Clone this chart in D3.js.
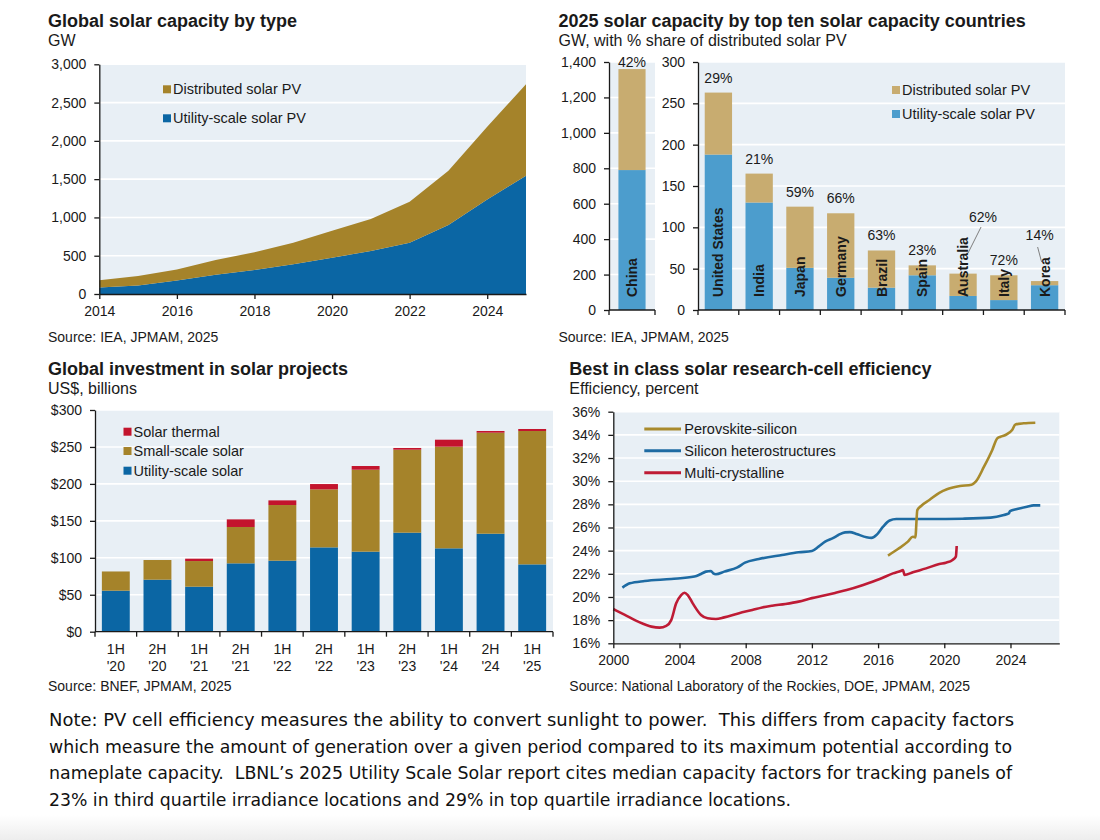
<!DOCTYPE html>
<html>
<head>
<meta charset="utf-8">
<script src="https://cdn.jsdelivr.net/npm/d3@7"></script>
<style>
  body { margin: 0; background: #fff; }
  svg { display: block; font-family: "Liberation Sans", Arial, sans-serif; }
  .note { white-space: pre; }
</style>
</head>
<body>
<div id="chart"></div>
<script>
// ---- data ----
var capYears = [2014, 2015, 2016, 2017, 2018, 2019, 2020, 2021, 2022, 2023, 2024, 2025];
var capUtility = [85, 110, 175, 250, 315, 390, 475, 560, 670, 900, 1235, 1545];
var capDistributed = [95, 125, 145, 195, 230, 280, 350, 420, 535, 710, 950, 1195];

var chinaName = ["China"];
var chinaUtility = [790];
var chinaDistributed = [570];
var chinaShare = ["42%"];

var countries = ["United States", "India", "Japan", "Germany", "Brazil", "Spain", "Australia", "Italy", "Korea"];
var countryUtility = [188, 130, 51, 39, 27, 42, 17, 12, 30];
var countryDistributed = [75, 35, 74, 78, 45, 12, 27, 30, 5];
var countryShare = ["29%", "21%", "59%", "66%", "63%", "23%", "62%", "72%", "14%"];

var periods = ["1H '20", "2H '20", "1H '21", "2H '21", "1H '22", "2H '22", "1H '23", "2H '23", "1H '24", "2H '24", "1H '25"];
var invUtility = [55.5, 70.4, 60.9, 92.5, 96.1, 114.1, 108.3, 134, 112.8, 132.6, 91.1];
var invSmall = [26, 26.6, 34.7, 49.2, 75.3, 78.5, 110.9, 112.3, 137.6, 136.7, 180.5];
var invThermal = [0, 0, 3.2, 10.3, 6.3, 7.2, 5, 2.3, 9.4, 2.3, 2.7];

// [year, efficiency %]
var perovskite = [[2016.6, 23.57], [2017.2, 24.14], [2017.8, 24.78], [2018.1, 25.2], [2018.25, 25.15],
  [2018.37, 27.5], [2018.6, 27.86], [2019.1, 28.37], [2019.7, 29.0], [2020.2, 29.32], [2020.95, 29.58],
  [2021.65, 29.7], [2021.9, 29.96], [2022.4, 31.25], [2022.9, 32.7], [2023.2, 33.7], [2023.4, 33.84],
  [2023.7, 33.99], [2024.1, 34.42], [2024.3, 34.9], [2024.8, 35.0], [2025.5, 35.05]];
var heterostructures = [[2000.55, 20.81], [2001.0, 21.18], [2001.9, 21.38], [2003.5, 21.55], [2004.9, 21.76],
  [2005.3, 21.99], [2005.6, 22.19], [2005.9, 22.24], [2006.04, 22.04], [2006.2, 21.96], [2006.7, 22.19],
  [2007.5, 22.56], [2007.96, 22.96], [2008.8, 23.28], [2010.2, 23.63], [2011.2, 23.86], [2012.0, 23.97],
  [2012.4, 24.35], [2012.8, 24.78], [2013.3, 25.1], [2013.6, 25.35], [2014.0, 25.58], [2014.3, 25.6],
  [2014.7, 25.44], [2015.3, 25.15], [2015.6, 25.1], [2015.9, 25.35], [2016.3, 26.07], [2016.7, 26.6],
  [2017.1, 26.73], [2019.1, 26.73], [2021.1, 26.76], [2022.8, 26.85], [2023.6, 27.08], [2023.9, 27.22],
  [2023.97, 27.42], [2024.4, 27.6], [2025.0, 27.8], [2025.4, 27.91], [2025.8, 27.91]];
var multiCrystalline = [[2000.0, 18.96], [2000.7, 18.45], [2001.5, 17.87], [2002.3, 17.44], [2002.8, 17.35],
  [2003.2, 17.5], [2003.5, 18.0], [2003.8, 19.45], [2004.1, 20.17], [2004.3, 20.37], [2004.5, 20.17],
  [2004.8, 19.45], [2005.3, 18.45], [2005.7, 18.16], [2006.2, 18.1], [2006.7, 18.24], [2007.6, 18.6],
  [2008.4, 18.88], [2009.0, 19.1], [2009.6, 19.25], [2010.4, 19.4], [2011.2, 19.6], [2012.0, 19.9],
  [2012.8, 20.15], [2013.4, 20.35], [2014.1, 20.6], [2015.1, 21.04], [2016.1, 21.55], [2016.9, 22.04],
  [2017.4, 22.27], [2017.5, 22.33], [2017.6, 21.9], [2018.1, 22.13], [2018.9, 22.47], [2019.7, 22.85],
  [2020.1, 22.96], [2020.5, 23.2], [2020.7, 23.48], [2020.75, 24.4]];

var noteLines = [
  "Note: PV cell efficiency measures the ability to convert sunlight to power.  This differs from capacity factors",
  "which measure the amount of generation over a given period compared to its maximum potential according to",
  "nameplate capacity.  LBNL\u2019s 2025 Utility Scale Solar report cites median capacity factors for tracking panels of",
  "23% in third quartile irradiance locations and 29% in top quartile irradiance locations."
];

// ---- colours ----
var bgColor = "#e8eff5";
var gold = "#a5832a";
var blue = "#0b66a4";
var tan = "#c8ac70";
var lightBlue = "#4c9dcd";
var red = "#c3142d";
var ink = "#1a1a1a";

var svg = d3.select("#chart").append("svg")
  .attr("width", 1100)
  .attr("height", 840);

function header(x, yTitle, title, sub) {
  svg.append("text").attr("x", x).attr("y", yTitle)
    .attr("font-size", 18).attr("font-weight", "bold").attr("fill", ink).text(title);
  svg.append("text").attr("x", x).attr("y", yTitle + 19)
    .attr("font-size", 16).attr("fill", ink).text(sub);
}

function source(x, y, txt) {
  svg.append("text").attr("x", x).attr("y", y)
    .attr("font-size", 14).attr("fill", ink).text(txt);
}

function styleAxis(g) {
  g.attr("font-family", null).attr("font-size", 14);
  g.selectAll("path, line").attr("stroke", ink).attr("stroke-width", 1.3);
  g.selectAll("text").attr("fill", ink);
}

function panel(x0, x1, y) {
  svg.append("rect")
    .attr("x", x0).attr("y", y.range()[1])
    .attr("width", x1 - x0).attr("height", y.range()[0] - y.range()[1])
    .attr("fill", bgColor);
}

function grid(x0, x1, y, ticks) {
  svg.append("g").selectAll("line")
    .data(ticks.filter(function(d) { return d !== y.domain()[0]; }))
    .join("line")
    .attr("x1", x0).attr("x2", x1)
    .attr("y1", function(d) { return y(d); })
    .attr("y2", function(d) { return y(d); })
    .attr("stroke", "#fff").attr("stroke-width", 1.6);
}

function leftAxis(xPos, y, ticks, fmt) {
  svg.append("g")
    .attr("transform", "translate(" + xPos + ",0)")
    .call(d3.axisLeft(y).tickValues(ticks).tickFormat(fmt).tickSizeInner(5).tickSizeOuter(0).tickPadding(8))
    .call(styleAxis);
}

function bandAxis(x, yPos) {
  var n = x.domain().length;
  var r = x.range();
  var g = svg.append("g");
  g.append("line").attr("x1", r[0]).attr("x2", r[1]).attr("y1", yPos).attr("y2", yPos)
    .attr("stroke", ink).attr("stroke-width", 1.3);
  g.selectAll(".tk").data(d3.range(n + 1)).join("line")
    .attr("x1", function(i) { return r[0] + i * x.step(); })
    .attr("x2", function(i) { return r[0] + i * x.step(); })
    .attr("y1", yPos).attr("y2", yPos + 5)
    .attr("stroke", ink).attr("stroke-width", 1.3);
}

function legendSquares(x, ys, items) {
  items.forEach(function(it, i) {
    svg.append("rect").attr("x", x).attr("y", ys[i] - 4).attr("width", 8).attr("height", 8).attr("fill", it.color);
    svg.append("text").attr("x", x + 10).attr("y", ys[i]).attr("dy", "0.35em")
      .attr("font-size", 14.5).attr("fill", ink).text(it.label);
  });
}

// ---- chart 1: global solar capacity by type ----
function drawCapacity() {
  header(48, 26.5, "Global solar capacity by type", "GW");
  var x = d3.scaleLinear().domain([2014, 2025]).range([99.3, 526]);
  var y = d3.scaleLinear().domain([0, 3000]).range([294, 64.3]);
  var yTicks = d3.range(0, 3001, 500);
  panel(x.range()[0], x.range()[1], y);
  grid(x.range()[0], x.range()[1], y, yTicks);

  var rows = capYears.map(function(yr, i) {
    return { year: yr, utility: capUtility[i], distributed: capDistributed[i] };
  });
  var series = d3.stack().keys(["utility", "distributed"])(rows);
  var area = d3.area()
    .x(function(d) { return x(d.data.year); })
    .y0(function(d) { return y(d[0]); })
    .y1(function(d) { return y(d[1]); });
  svg.append("g").selectAll("path").data(series).join("path")
    .attr("d", area)
    .attr("fill", function(s) { return s.key === "utility" ? blue : gold; });

  leftAxis(x.range()[0], y, yTicks, d3.format(","));
  svg.append("g")
    .attr("transform", "translate(0," + y.range()[0] + ")")
    .call(d3.axisBottom(x).tickValues(d3.range(2014, 2025, 2)).tickFormat(d3.format("d"))
      .tickSizeInner(5).tickSizeOuter(0).tickPadding(7))
    .call(styleAxis);

  legendSquares(163, [89.3, 118.3], [
    { label: "Distributed solar PV", color: gold },
    { label: "Utility-scale solar PV", color: blue }
  ]);
  source(48, 342, "Source: IEA, JPMAM, 2025");
}

// ---- chart 2: top ten countries ----
function countryBars(x, y, names, util, dist, shares, labelOffset) {
  var rows = names.map(function(n, i) { return { name: n, utility: util[i], distributed: dist[i], share: shares[i] }; });
  var series = d3.stack().keys(["utility", "distributed"])(rows);
  svg.append("g").selectAll("g").data(series).join("g")
    .attr("fill", function(s) { return s.key === "utility" ? lightBlue : tan; })
    .selectAll("rect").data(function(s) { return s; }).join("rect")
    .attr("x", function(d) { return x(d.data.name); })
    .attr("width", x.bandwidth())
    .attr("y", function(d) { return y(d[1]); })
    .attr("height", function(d) { return y(d[0]) - y(d[1]); });

  // country names, rotated inside the bars
  svg.append("g").selectAll("text").data(rows).join("text")
    .attr("transform", function(d) {
      return "translate(" + (x(d.name) + x.bandwidth() / 2) + "," + (y(0) - 13) + ") rotate(-90)";
    })
    .attr("dy", "0.36em")
    .attr("font-size", 14).attr("font-weight", "bold").attr("fill", ink)
    .text(function(d) { return d.name; });

  // share labels; two of them are lifted with a leader line
  var lifted = { "Australia": { v: 112, dx: 20, lineTop: 227, lineBot: 253, ldx: 5 },
                 "Korea": { v: 90.5, dx: -5, lineTop: 247, lineBot: 262, ldx: -3 } };
  rows.forEach(function(d) {
    var cx = x(d.name) + x.bandwidth() / 2;
    var lf = lifted[d.name];
    if (lf) {
      svg.append("text").attr("x", cx + lf.dx).attr("y", y(lf.v) + 5)
        .attr("text-anchor", "middle").attr("font-size", 14).attr("fill", ink).text(d.share);
      svg.append("line")
        .attr("x1", cx + lf.dx - 2).attr("y1", lf.lineTop)
        .attr("x2", cx + lf.ldx).attr("y2", lf.lineBot)
        .attr("stroke", "#7f7f7f").attr("stroke-width", 1);
    } else {
      svg.append("text").attr("x", cx).attr("y", y(d.utility + d.distributed) - labelOffset)
        .attr("text-anchor", "middle").attr("font-size", 14).attr("fill", ink).text(d.share);
    }
  });
}

function drawCountries() {
  header(558.5, 26.5, "2025 solar capacity by top ten solar capacity countries", "GW, with % share of distributed solar PV");

  var yChina = d3.scaleLinear().domain([0, 1400]).range([310, 62]);
  var xChina = d3.scaleBand().domain(chinaName).range([609, 655]).paddingInner(0.41).paddingOuter(0.205);
  var chinaTicks = d3.range(0, 1401, 200);
  panel(609, 655, yChina);
  grid(609, 655, yChina, chinaTicks);
  countryBars(xChina, yChina, chinaName, chinaUtility, chinaDistributed, chinaShare, 2);
  leftAxis(609, yChina, chinaTicks, d3.format(","));
  bandAxis(xChina, 310);

  var y = d3.scaleLinear().domain([0, 300]).range([310, 62]);
  var x = d3.scaleBand().domain(countries).range([698, 1065]).paddingInner(0.33).paddingOuter(0.165);
  var yTicks = d3.range(0, 301, 50);
  panel(698, 1065, y);
  grid(698, 1065, y, yTicks);
  countryBars(x, y, countries, countryUtility, countryDistributed, countryShare, 10);
  leftAxis(698, y, yTicks, d3.format(","));
  bandAxis(x, 310);

  legendSquares(892, [90, 114], [
    { label: "Distributed solar PV", color: tan },
    { label: "Utility-scale solar PV", color: lightBlue }
  ]);
  source(558.5, 342, "Source: IEA, JPMAM, 2025");
}

// ---- chart 3: investment ----
function drawInvestment() {
  header(48, 374.5, "Global investment in solar projects", "US$, billions");
  var x = d3.scaleBand().domain(periods).range([95, 553]).paddingInner(0.33).paddingOuter(0.165);
  var y = d3.scaleLinear().domain([0, 300]).range([631.7, 410]);
  var yTicks = d3.range(0, 301, 50);
  panel(95, 553, y);
  grid(95, 553, y, yTicks);

  var rows = periods.map(function(p, i) {
    return { period: p, utility: invUtility[i], small: invSmall[i], thermal: invThermal[i] };
  });
  var colors = { utility: blue, small: gold, thermal: red };
  var series = d3.stack().keys(["utility", "small", "thermal"])(rows);
  svg.append("g").selectAll("g").data(series).join("g")
    .attr("fill", function(s) { return colors[s.key]; })
    .selectAll("rect").data(function(s) { return s; }).join("rect")
    .attr("x", function(d) { return x(d.data.period); })
    .attr("width", x.bandwidth())
    .attr("y", function(d) { return y(d[1]); })
    .attr("height", function(d) { return y(d[0]) - y(d[1]); });

  leftAxis(95, y, yTicks, function(d) { return "$" + d; });
  bandAxis(x, y(0));

  var lbl = svg.append("g").selectAll("text").data(periods).join("text")
    .attr("text-anchor", "middle").attr("font-size", 14).attr("fill", ink);
  lbl.append("tspan")
    .attr("x", function(d) { return x(d) + x.bandwidth() / 2; })
    .attr("y", 653.5)
    .text(function(d) { return d.split(" ")[0]; });
  lbl.append("tspan")
    .attr("x", function(d) { return x(d) + x.bandwidth() / 2; })
    .attr("y", 670.5)
    .text(function(d) { return d.split(" ")[1]; });

  legendSquares(123.5, [431.7, 451, 470.7], [
    { label: "Solar thermal", color: red },
    { label: "Small-scale solar", color: gold },
    { label: "Utility-scale solar", color: blue }
  ]);
  source(48, 691, "Source: BNEF, JPMAM, 2025");
}

// ---- chart 4: efficiency ----
function drawEfficiency() {
  header(569.3, 374.5, "Best in class solar research-cell efficiency", "Efficiency, percent");
  var x = d3.scaleLinear().domain([2000, 2026.95]).range([613.3, 1059.3]);
  var y = d3.scaleLinear().domain([16, 36]).range([643.3, 411.7]);
  var yTicks = d3.range(16, 37, 2);
  panel(x.range()[0], x.range()[1], y);
  grid(x.range()[0], x.range()[1], y, yTicks);

  var line = d3.line()
    .x(function(d) { return x(d[0]); })
    .y(function(d) { return y(d[1]); })
    .curve(d3.curveMonotoneX);

  var lines = [
    { label: "Perovskite-silicon", color: "#a88a2c", data: perovskite },
    { label: "Silicon heterostructures", color: "#1e6ba3", data: heterostructures },
    { label: "Multi-crystalline", color: "#be1b35", data: multiCrystalline }
  ];
  svg.append("g").selectAll("path").data(lines.slice().reverse()).join("path")
    .attr("d", function(s) { return line(s.data); })
    .attr("fill", "none")
    .attr("stroke", function(s) { return s.color; })
    .attr("stroke-width", 2.6)
    .attr("stroke-linejoin", "round");

  leftAxis(x.range()[0], y, yTicks, function(d) { return d + "%"; });
  svg.append("g")
    .attr("transform", "translate(0," + y.range()[0] + ")")
    .call(d3.axisBottom(x).tickValues(d3.range(2000, 2025, 4)).tickFormat(d3.format("d"))
      .tickSizeInner(5).tickSizeOuter(0).tickPadding(7))
    .call(styleAxis);

  var ly = [429, 450.7, 472.7];
  lines.forEach(function(s, i) {
    svg.append("line").attr("x1", 644.3).attr("x2", 681).attr("y1", ly[i]).attr("y2", ly[i])
      .attr("stroke", s.color).attr("stroke-width", 3);
    svg.append("text").attr("x", 684.3).attr("y", ly[i]).attr("dy", "0.35em")
      .attr("font-size", 14.5).attr("fill", ink).text(s.label);
  });
  source(569.3, 691, "Source: National Laboratory of the Rockies, DOE, JPMAM, 2025");
}

// ---- note ----
function drawNote() {
  var widths = [965, 963, 963, 742];
  svg.append("g").selectAll("text").data(noteLines).join("text")
    .attr("class", "note")
    .attr("x", 49)
    .attr("y", function(d, i) { return 726 + i * 26.5; })
    .attr("font-family", "'Liberation Sans Narrow', 'DejaVu Sans Condensed', 'Open Sans', sans-serif")
    .attr("font-size", 18.5)
    .attr("fill", "#111")
    .attr("textLength", function(d, i) { return widths[i]; })
    .attr("lengthAdjust", "spacingAndGlyphs")
    .text(function(d) { return d; });

  var grad = svg.append("defs").append("linearGradient")
    .attr("id", "fade").attr("x1", 0).attr("x2", 0).attr("y1", 0).attr("y2", 1);
  grad.append("stop").attr("offset", 0).attr("stop-color", "#fff");
  grad.append("stop").attr("offset", 1).attr("stop-color", "#ededed");
  svg.append("rect").attr("x", 0).attr("y", 815).attr("width", 1100).attr("height", 25).attr("fill", "url(#fade)");
}

drawCapacity();
drawCountries();
drawInvestment();
drawEfficiency();
drawNote();
</script>
</body>
</html>
